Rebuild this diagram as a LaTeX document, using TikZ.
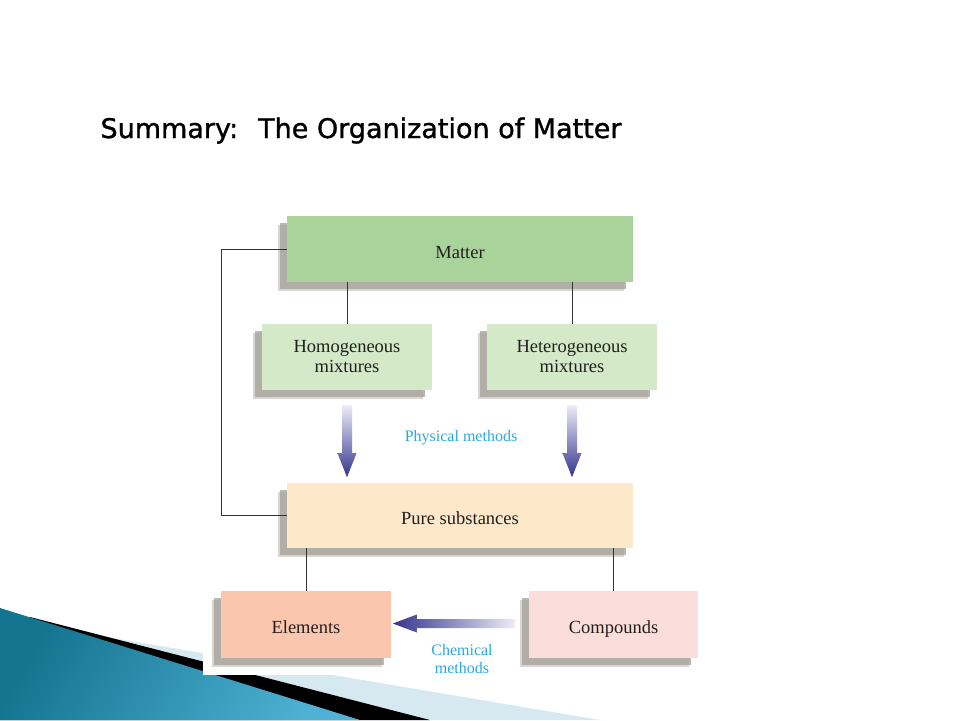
\documentclass[tikz,border=0pt]{standalone}
\usepackage{fontspec}
\setmainfont{Liberation Serif}
\newfontfamily\titlefont[FakeBold=1.2]{DejaVu Sans}
\usepackage{tikz}
\usetikzlibrary{shadows,calc,positioning}

\definecolor{mattergreen}{HTML}{A9D39B}
\definecolor{mixgreen}{HTML}{D3E9C8}
\definecolor{purepeach}{HTML}{FDE9C9}
\definecolor{elemsalmon}{HTML}{FAC7AE}
\definecolor{comppink}{HTML}{FBDDDA}
\definecolor{shadowgray}{HTML}{A8A59E}
\definecolor{textdark}{HTML}{231F20}
\definecolor{linegray}{HTML}{333333}
\definecolor{methodcyan}{HTML}{2AA9E0}
\definecolor{arrowdark}{HTML}{34348C}
\definecolor{arrowlight}{HTML}{ECECF7}
\definecolor{tealdark}{HTML}{137590}
\definecolor{teallight}{HTML}{4FB1D3}
\definecolor{palesky}{HTML}{D6E8F0}

\tikzset{
  box/.style={inner sep=0pt, align=center, text=textdark,
    font=\fontsize{18.5}{20}\selectfont,
    drop shadow={shadow xshift=-9pt, shadow yshift=-9pt, fill=shadowgray, opacity=.45},
    drop shadow={shadow xshift=-7pt, shadow yshift=-7pt, fill=shadowgray, opacity=.8}},
  oneline/.style={text height=18pt, text depth=0pt},
  widebox/.style={box, minimum width=346pt, minimum height=66pt},
  smallbox/.style={box, minimum width=170pt, minimum height=67pt},
  link/.style={draw=linegray, line width=1pt},
  method/.style={text=methodcyan, align=center, font=\fontsize{16}{18}\selectfont},
  downarrow/.style={top color=arrowlight, bottom color=arrowdark},
  leftarrow/.style={left color=arrowdark, right color=arrowlight}
}

\begin{document}
\begin{tikzpicture}[x=1pt, y=-1pt]
  \useasboundingbox (0,0) rectangle (960,720);

  \fill[palesky] (0,619) -- (600,720) -- (0,720) -- cycle;
  \fill[black] (30,617) -- (430,720) -- (0,720) -- cycle;
  \shade[left color=tealdark, right color=teallight, shading angle=60] (0,608) -- (360,720) -- (0,720) -- cycle;
  \fill[white] (203,195) rectangle (705,675);

  \node[anchor=base west, font=\titlefont\fontsize{27}{30}\selectfont] (title) at (97,138) {Summary: \ The Organization of Matter};

  \node[widebox, oneline, fill=mattergreen] (matter) at (460,249) {Matter};
  \node[smallbox, fill=mixgreen, minimum height=66pt] (homo) at (347,357) {Homogeneous\\mixtures};
  \node[smallbox, fill=mixgreen, minimum height=66pt] (hetero) at (572,357) {Heterogeneous\\mixtures};
  \node[widebox, oneline, fill=purepeach, minimum height=65pt] (pure) at (460,515.5) {Pure substances};
  \node[smallbox, oneline, fill=elemsalmon] (elements) at (306,624.5) {Elements};
  \node[smallbox, oneline, fill=comppink, minimum width=169pt] (compounds) at (613.5,624.5) {Compounds};

  \draw[link] (homo.north) -- (homo.north |- matter.south);
  \draw[link] (hetero.north) -- (hetero.north |- matter.south);
  \draw[link] (matter.west) -- ++(-65,0) |- (pure.west);
  \draw[link] (elements.north) -- (elements.north |- pure.south);
  \draw[link] (compounds.north) -- (compounds.north |- pure.south);

  \coordinate (physA) at ($(homo.south)+(0,15)$);
  \coordinate (physB) at ($(hetero.south)+(0,15)$);
  \coordinate (chem) at ($(compounds.west)+(-14,-1)$);
  \shade[downarrow] (physA) ++(-5,0) -- ++(10,0) -- ++(0,48) -- ++(4.5,0) -- ++(-9.5,24) -- ++(-9.5,-24) -- ++(4.5,0) -- cycle;
  \shade[downarrow] (physB) ++(-5,0) -- ++(10,0) -- ++(0,48) -- ++(4.5,0) -- ++(-9.5,24) -- ++(-9.5,-24) -- ++(4.5,0) -- cycle;
  \shade[leftarrow] (chem) ++(0,-4.5) -- ++(-98,0) -- ++(0,-4.5) -- ++(-24,9) -- ++(24,9) -- ++(0,-4.5) -- ++(98,0) -- cycle;

  \node[method] (physical) at (461,438) {Physical methods};
  \node[method] (chemical) at (462,659) {Chemical\\methods};
\end{tikzpicture}
\end{document}
